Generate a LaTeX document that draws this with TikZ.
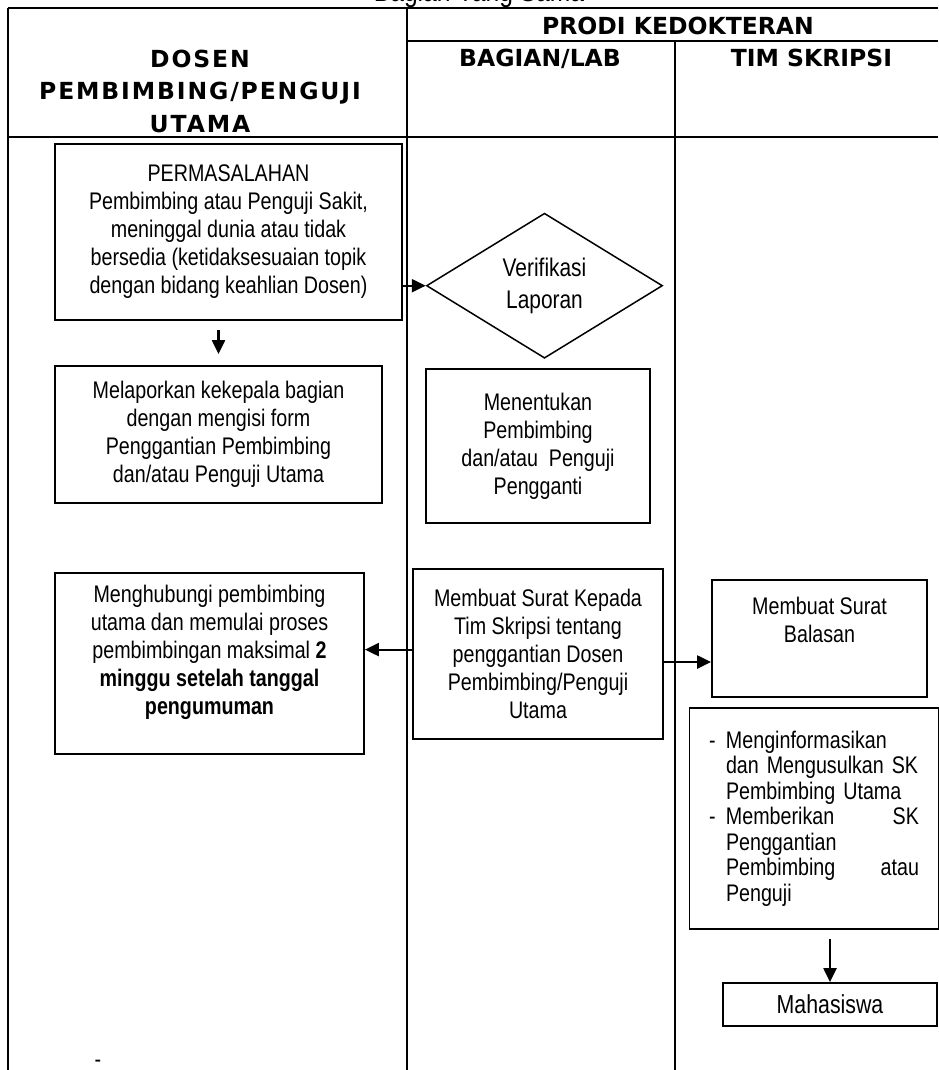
\documentclass[tikz,border=0pt]{standalone}
\usepackage{fontspec}
\newfontfamily\bodyfont{Liberation Sans}[FakeStretch=0.82]
\newfontfamily\headfont{DejaVu Sans}
\usetikzlibrary{shapes.geometric, arrows.meta, positioning}
\tikzstyle{box} = [rectangle, draw=black, line width=1.8pt, align=center, inner sep=0pt, font=\bodyfont\fontsize{24}{28}\selectfont]
\tikzstyle{decision} = [diamond, draw=black, line width=1.5pt, align=center, inner sep=0pt, aspect=1.63, font=\bodyfont\fontsize{25.5}{32}\selectfont]
\tikzstyle{head} = [align=center, inner sep=0pt, font=\headfont\bfseries\fontsize{23.5}{32.5}\selectfont]
\tikzstyle{lane} = [line width=2.6pt]
\tikzstyle{arrow} = [line width=2.2pt,->,>={Triangle[length=14pt,width=13pt]}]

\begin{document}
\begin{tikzpicture}[x=1pt, y=-1pt]
\useasboundingbox (0,0) rectangle (938,1070);

% Lanes
\draw [lane] (8,8) -- (938,8);
\draw [lane] (407,41) -- (938,41);
\draw [lane] (8,137) -- (938,137);
\draw [lane] (8,8) -- (8,1070);
\draw [lane] (407,8) -- (407,1070);
\draw [lane] (675,41) -- (675,1070);

% Headers
\node (judul) [anchor=base, inner sep=0pt, font=\bodyfont\fontsize{30}{34}\selectfont] at (479,1.5) {Bagian Yang Sama};
\node (prodi) [head, anchor=base] at (678,34.5) {PRODI KEDOKTERAN};
\node (dosen) [head, font=\headfont\bfseries\addfontfeature{LetterSpace=8}\fontsize{23.5}{32.5}\selectfont] at (200,91) {DOSEN\\PEMBIMBING/PENGUJI\\UTAMA};
\node (bagian) [head, anchor=base] at (540,67) {BAGIAN/LAB};
\node (tim) [head, anchor=base] at (811.5,67) {TIM SKRIPSI};

% Permasalahan
\node (masalah) [box, minimum width=347, minimum height=176] at (228.5,232) {
    PERMASALAHAN\\
    Pembimbing atau Penguji Sakit,\\
    meninggal dunia atau tidak\\
    bersedia (ketidaksesuaian topik\\
    dengan bidang keahlian Dosen)
};

% Laporan
\node (lapor) [box, minimum width=327, minimum height=137] at (218.5,434.5) {
    Melaporkan kekepala bagian\\
    dengan mengisi form\\
    Penggantian Pembimbing\\
    dan/atau Penguji Utama
};

% Verifikasi
\node (verifikasi) [decision, minimum width=236, minimum height=145] at (544.5,285.7) {
    Verifikasi\\
    Laporan
};

% Penentuan
\node (tentukan) [box, minimum width=224, minimum height=154] at (538,446) {
    Menentukan\\
    Pembimbing\\
    dan/atau~ Penguji\\
    Pengganti
};

% Surat bagian
\node (suratlab) [box, minimum width=250, minimum height=170] at (538,654) {
    Membuat Surat Kepada\\
    Tim Skripsi tentang\\
    penggantian Dosen\\
    Pembimbing/Penguji\\
    Utama
};

% Surat balasan
\node (balasan) [box, minimum width=215, minimum height=117] at (819.5,638.5) {
    Membuat Surat\\
    Balasan\\
    \rule{0pt}{36pt}
};

% Pembimbingan
\node (hubungi) [box, minimum width=309, minimum height=181] at (209.5,663.5) {
    Menghubungi pembimbing\\
    utama dan memulai proses\\
    pembimbingan maksimal \textbf{2}\\
    \textbf{minggu setelah tanggal}\\
    \textbf{pengumuman}\\
    \rule{0pt}{10pt}
};

% SK
\node (usulan) [box, minimum width=249, minimum height=221, align=left, text width=210, font=\bodyfont\fontsize{24}{25.5}\selectfont] at (814,818.5) {
    \makebox[17pt][l]{-}Menginformasikan\\
    \hspace*{17pt}dan Mengusulkan SK\\
    \hspace*{17pt}Pembimbing Utama\\
    \makebox[17pt][l]{-}Memberikan\hfill SK\\
    \hspace*{17pt}Penggantian\\
    \hspace*{17pt}Pembimbing\hfill atau\\
    \hspace*{17pt}Penguji
};

% Mahasiswa
\node (mahasiswa) [box, minimum width=214, minimum height=43, font=\bodyfont\fontsize{26}{30}\selectfont] at (830,1004.5) {Mahasiswa};

\node (strip) [anchor=base, inner sep=0pt, font=\bodyfont\fontsize{24}{28}\selectfont] at (98,1067) {-};

% Arrows
\draw [arrow, shorten <=9pt, shorten >=11pt] (masalah.south -| lapor.north) -- (lapor.north);
\draw [arrow] (masalah.east |- verifikasi.west) -- (verifikasi.west);
\draw [arrow] ([yshift=4.4pt]suratlab.west) -- ([yshift=4.4pt]suratlab.west -| hubungi.east);
\draw [arrow] ([yshift=-8pt]suratlab.east) -- ([yshift=-8pt]suratlab.east -| balasan.west);
\draw [arrow, shorten <=9pt] (usulan.south -| mahasiswa.north) -- (mahasiswa.north);

\end{tikzpicture}
\end{document}
